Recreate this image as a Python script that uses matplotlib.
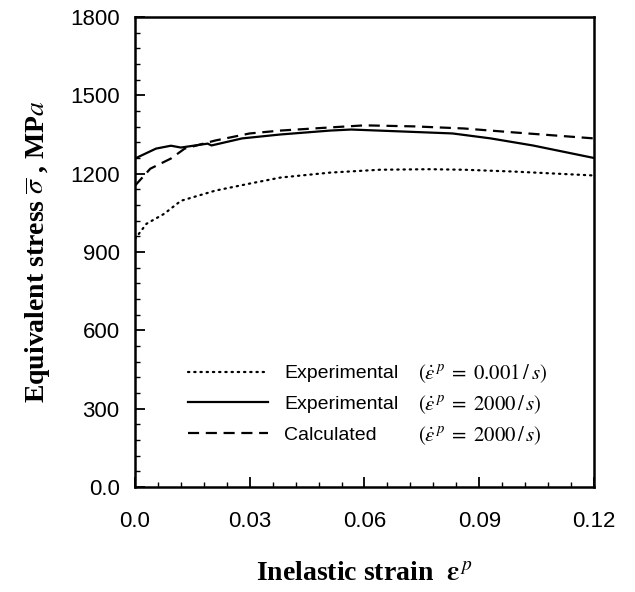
import matplotlib
matplotlib.use("Agg")
import matplotlib.pyplot as plt
from matplotlib.ticker import MultipleLocator, FixedFormatter, FixedLocator

plt.rcParams["mathtext.fontset"] = "stix"

# strain values and stresses (MPa)
strain_dot = [0.0, 0.003, 0.0076, 0.012, 0.021, 0.030, 0.038, 0.051, 0.064,
              0.077, 0.086, 0.099, 0.12]
stress_dot = [950, 1008, 1046, 1096, 1135, 1162, 1185, 1204, 1215,
              1217, 1215, 1208, 1193]

strain_solid = [0.0, 0.0055, 0.0094, 0.012, 0.019, 0.020, 0.028, 0.038, 0.051,
                0.0565, 0.069, 0.083, 0.093, 0.104, 0.12]
stress_solid = [1258, 1296, 1307, 1300, 1315, 1308, 1335, 1350, 1365,
                1369, 1362, 1354, 1335, 1308, 1260]

strain_dash = [0.0, 0.004, 0.0094, 0.013, 0.021, 0.030, 0.038, 0.051, 0.060,
               0.073, 0.086, 0.099, 0.12]
stress_dash = [1154, 1219, 1258, 1296, 1327, 1354, 1365, 1377, 1385,
               1381, 1373, 1358, 1335]

labels = ["Experimental", "Experimental", "Calculated"]
rates = ["0.001", "2000", "2000"]

x_ticks = [0.0, 0.03, 0.06, 0.09, 0.12]
x_ticklabels = ["0.0", "0.03", "0.06", "0.09", "0.12"]
y_ticks = [0, 300, 600, 900, 1200, 1500, 1800]
y_ticklabels = ["0.0", "300", "600", "900", "1200", "1500", "1800"]

fig = plt.figure(figsize=(6.35, 5.92), dpi=100)
ax = fig.add_axes([0.2126, 0.1774, 0.7228, 0.7939])

l1, = ax.plot(strain_dot, stress_dot, color="black", lw=1.6, linestyle=(0, (0.6, 2.2)),
              dash_capstyle="round")
l2, = ax.plot(strain_solid, stress_solid, color="black", lw=1.6)
l3, = ax.plot(strain_dash, stress_dash, color="black", lw=1.6, linestyle=(0, (5, 3)))

ax.set_xlim(0, 0.12)
ax.set_ylim(0, 1800)
ax.xaxis.set_major_locator(FixedLocator(x_ticks))
ax.xaxis.set_major_formatter(FixedFormatter(x_ticklabels))
ax.yaxis.set_major_locator(FixedLocator(y_ticks))
ax.yaxis.set_major_formatter(FixedFormatter(y_ticklabels))
ax.xaxis.set_minor_locator(MultipleLocator(0.006))
ax.yaxis.set_minor_locator(MultipleLocator(60))

for lab in ax.get_xticklabels() + ax.get_yticklabels():
    lab.set_fontfamily("Liberation Sans")
    lab.set_fontsize(16)

ax.tick_params(which="major", direction="in", length=7, width=1.3)
ax.tick_params(which="minor", direction="in", length=3.5, width=1.0)
ax.tick_params(axis="x", pad=17)
ax.tick_params(axis="y", pad=11)
for sp in ax.spines.values():
    sp.set_linewidth(1.8)

ax.set_xlabel(r"Inelastic strain  $\mathbf{\varepsilon}^{\,p}$", family="Liberation Serif",
              fontweight="bold", fontsize=20, labelpad=21)
ax.set_ylabel(r"Equivalent stress $\overline{\sigma}$ , MP$\mathit{a}$", family="Liberation Serif",
              fontweight="bold", fontsize=20, labelpad=13)

leg = ax.legend([l1, l2, l3], labels, loc="lower left", bbox_to_anchor=(0.077, 0.054),
                frameon=False, handlelength=4.1, handletextpad=0.85, labelspacing=0.68,
                prop={"family": "Liberation Sans", "size": 14})
fig.canvas.draw()

# rate annotations aligned with the legend rows
inv = ax.transAxes.inverted()
for txt, rate in zip(leg.get_texts(), rates):
    bb = txt.get_window_extent()
    yc = inv.transform((0, (bb.y0 + bb.y1) / 2))[1]
    ax.text(0.617, yc, r"$(\dot{\varepsilon}^{\,p}\;=\;%s\,/\,s)$" % rate, transform=ax.transAxes,
            fontsize=15, va="center", ha="left")

fig.savefig("out.png", dpi=100)
